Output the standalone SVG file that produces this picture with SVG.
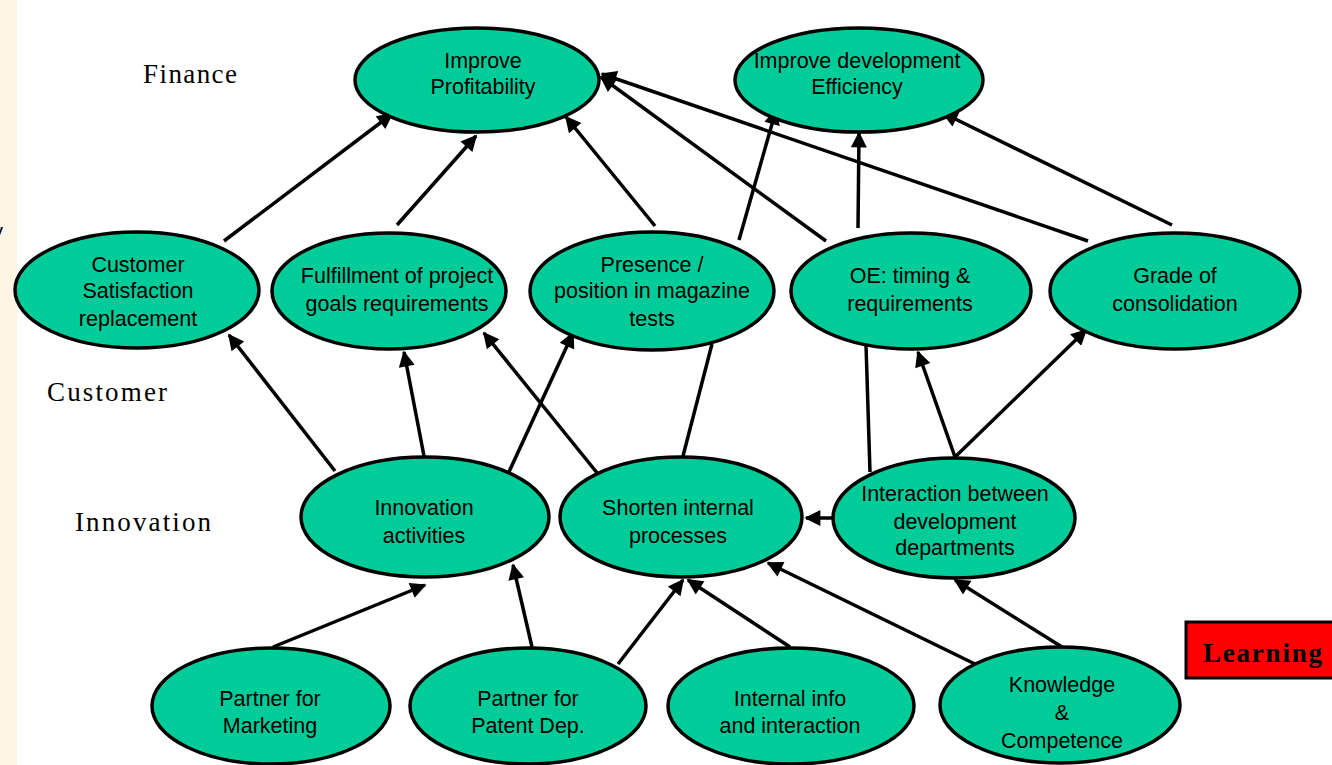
<svg xmlns="http://www.w3.org/2000/svg" width="1332" height="765" viewBox="0 0 1332 765">
<style>
.node ellipse{fill:#00CC99;stroke:#000;stroke-width:3.5}
.node text{font-family:"Liberation Sans",Arial,sans-serif;font-size:21.5px;fill:#000;text-anchor:middle}
.lbl{font-family:"Liberation Serif","Times New Roman",serif;font-size:27px;fill:#000}
.conn line{stroke:#000;stroke-width:3.5}
.conn .a{marker-end:url(#ah)}
</style>
<defs>
<marker id="ah" viewBox="0 0 10 10" refX="9" refY="5" markerWidth="19" markerHeight="16" markerUnits="userSpaceOnUse" orient="auto">
<path d="M0,0 L10,5 L0,10 z" fill="#000"/>
</marker>
</defs>
<rect x="0" y="0" width="1332" height="765" fill="#fff"/>
<rect x="0" y="0" width="17" height="765" fill="#FFF5E4"/>
<text x="-7" y="238" font-family="Liberation Sans,Arial,sans-serif" font-size="20">y</text>

<text class="lbl" x="143" y="83" textLength="94">Finance</text>
<text class="lbl" x="47" y="401" textLength="120">Customer</text>
<text class="lbl" x="75" y="531" textLength="136">Innovation</text>

<g id="connectors" class="conn">
<line class="a" x1="224" y1="241" x2="392" y2="114"/>
<line class="a" x1="397" y1="225" x2="476" y2="136"/>
<line class="a" x1="655" y1="226" x2="566" y2="117"/>
<line class="a" x1="739" y1="240" x2="776" y2="110"/>
<line class="a" x1="826" y1="241" x2="601" y2="77"/>
<line class="a" x1="1088" y1="241" x2="602" y2="74"/>
<line class="a" x1="858" y1="228" x2="859" y2="133"/>
<line class="a" x1="1172" y1="225" x2="943" y2="113"/>
<line class="a" x1="335" y1="471" x2="229" y2="335"/>
<line class="a" x1="424" y1="456" x2="404" y2="352"/>
<line class="a" x1="508" y1="474" x2="573" y2="333"/>
<line class="a" x1="598" y1="474" x2="484" y2="333"/>
<line x1="683" y1="456" x2="712" y2="344"/>
<line x1="870" y1="472" x2="866" y2="345"/>
<line class="a" x1="955" y1="457" x2="918" y2="352"/>
<line class="a" x1="955" y1="457" x2="1086" y2="330"/>
<line class="a" x1="833" y1="518" x2="806" y2="518"/>
<line class="a" x1="273" y1="647" x2="425" y2="585"/>
<line class="a" x1="532" y1="647" x2="513" y2="565"/>
<line class="a" x1="618" y1="664" x2="683" y2="580"/>
<line class="a" x1="790" y1="647" x2="688" y2="580"/>
<line class="a" x1="975" y1="664" x2="768" y2="563"/>
<line class="a" x1="1062" y1="647" x2="955" y2="580"/>
</g>

<g id="n-profit" class="node"><ellipse cx="477" cy="80" rx="122" ry="52"/><text x="483" y="68">Improve</text><text x="483" y="94">Profitability</text></g>
<g id="n-efficiency" class="node"><ellipse cx="859" cy="80" rx="124" ry="52"/><text x="857" y="68">Improve development</text><text x="857" y="94">Efficiency</text></g>
<g id="n-custsat" class="node"><ellipse cx="137" cy="290" rx="122" ry="58"/><text x="138" y="272">Customer</text><text x="138" y="298">Satisfaction</text><text x="138" y="326">replacement</text></g>
<g id="n-fulfill" class="node"><ellipse cx="389" cy="291" rx="117" ry="58"/><text x="397" y="283">Fulfillment of project</text><text x="397" y="311">goals requirements</text></g>
<g id="n-presence" class="node"><ellipse cx="652" cy="291" rx="122" ry="59"/><text x="652" y="272">Presence /</text><text x="652" y="298">position in magazine</text><text x="652" y="326">tests</text></g>
<g id="n-oe" class="node"><ellipse cx="911" cy="291" rx="120" ry="58"/><text x="910" y="283">OE: timing &amp;</text><text x="910" y="311">requirements</text></g>
<g id="n-grade" class="node"><ellipse cx="1175" cy="291" rx="125" ry="58"/><text x="1175" y="283">Grade of</text><text x="1175" y="311">consolidation</text></g>
<g id="n-innov" class="node"><ellipse cx="425" cy="517" rx="124" ry="60"/><text x="424" y="515">Innovation</text><text x="424" y="543">activities</text></g>
<g id="n-shorten" class="node"><ellipse cx="681" cy="517" rx="121" ry="60"/><text x="678" y="515">Shorten internal</text><text x="678" y="543">processes</text></g>
<g id="n-interact" class="node"><ellipse cx="954" cy="518" rx="121" ry="60"/><text x="955" y="501">Interaction between</text><text x="955" y="529">development</text><text x="955" y="555">departments</text></g>
<g id="n-pmkt" class="node"><ellipse cx="271" cy="706" rx="119" ry="58"/><text x="270" y="706">Partner for</text><text x="270" y="733">Marketing</text></g>
<g id="n-ppat" class="node"><ellipse cx="528" cy="706" rx="118" ry="58"/><text x="528" y="706">Partner for</text><text x="528" y="733">Patent Dep.</text></g>
<g id="n-info" class="node"><ellipse cx="791" cy="706" rx="123" ry="58"/><text x="790" y="706">Internal info</text><text x="790" y="733">and interaction</text></g>
<g id="n-know" class="node"><ellipse cx="1060" cy="705" rx="120" ry="58"/><text x="1062" y="692">Knowledge</text><text x="1062" y="720">&amp;</text><text x="1062" y="748">Competence</text></g>

<g id="n-learning">
<rect x="1186" y="622" width="160" height="56" fill="#FF0000" stroke="#000" stroke-width="3"/>
<text x="1203" y="662" font-family="Liberation Serif,'Times New Roman',serif" font-size="27" font-weight="bold" textLength="119">Learning</text>
</g>
</svg>
